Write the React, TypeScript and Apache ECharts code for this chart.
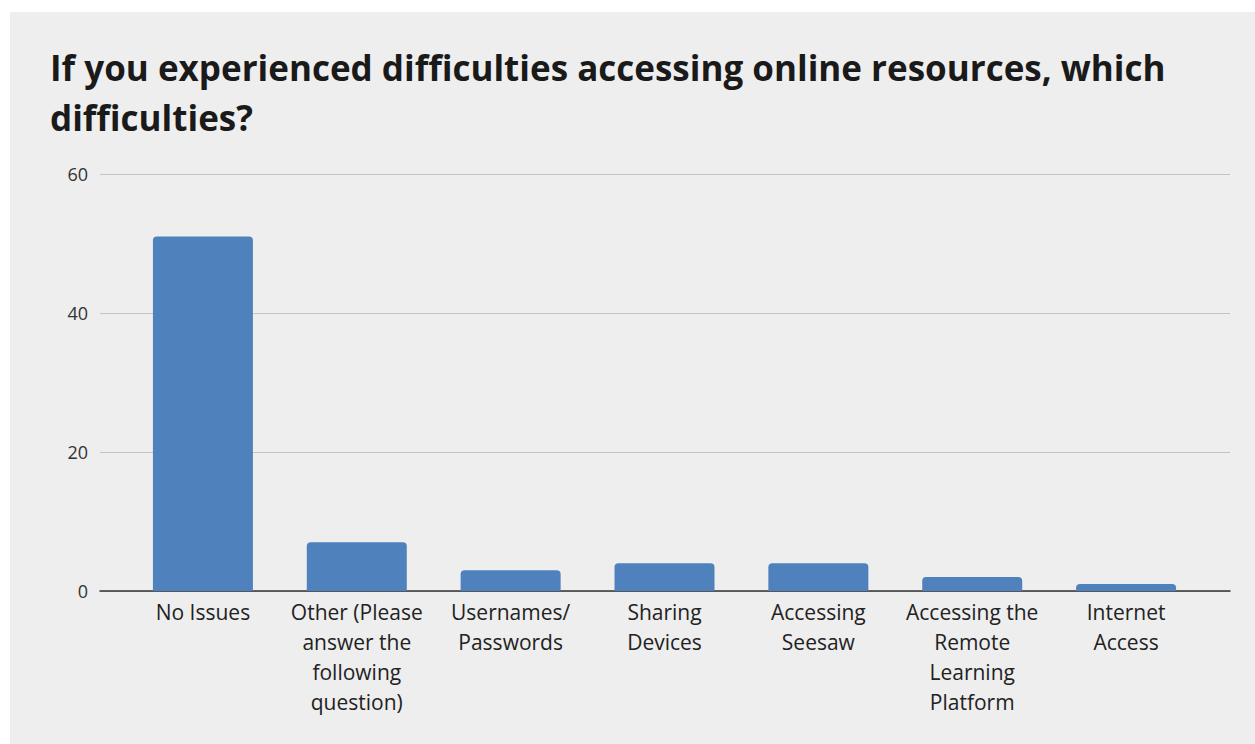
import React, { useEffect, useRef } from "react";
import * as echarts from "echarts";

const titleText = "If you experienced difficulties accessing online resources, which\ndifficulties?";
const categories = [
  "No Issues",
  "Other (Please\nanswer the\nfollowing\nquestion)",
  "Usernames/\nPasswords",
  "Sharing\nDevices",
  "Accessing\nSeesaw",
  "Accessing the\nRemote\nLearning\nPlatform",
  "Internet\nAccess",
];
const counts = [51, 7, 3, 4, 4, 2, 1];
const yMin = 0;
const yMax = 60;
const yInterval = 20;

export default function App() {
  const ref = useRef<HTMLDivElement>(null);
  useEffect(() => {
    if (!ref.current) return;
    const chart = echarts.init(ref.current, null, { renderer: "svg" });
    chart.setOption({
      animation: false,
      backgroundColor: "#eeeeee",
      title: {
        text: titleText,
        left: 40,
        top: 30,
        padding: 0,
        textStyle: {
          fontFamily: "Open Sans",
          fontWeight: "bold",
          fontSize: 35,
          lineHeight: 50,
          color: "#1a1a1a",
        },
      },
      grid: [
        { left: 90, right: 25, top: 162, bottom: 153 },
        { left: 116, right: 52, top: 162, bottom: 153 },
      ],
      xAxis: [
        {
          type: "category",
          gridIndex: 0,
          data: categories,
          axisLine: { show: true, lineStyle: { color: "#333333", width: 1.5 } },
          axisTick: { show: false },
          axisLabel: { show: false },
        },
        {
          type: "category",
          gridIndex: 1,
          data: categories,
          axisLine: { show: false },
          axisTick: { show: false },
          axisLabel: {
            interval: 0,
            margin: 6,
            fontFamily: "Open Sans",
            fontSize: 21,
            lineHeight: 30,
            color: "#222222",
            verticalAlign: "top",
          },
        },
      ],
      yAxis: [
        {
          type: "value",
          gridIndex: 0,
          min: yMin,
          max: yMax,
          interval: yInterval,
          axisLine: { show: false },
          axisTick: { show: false },
          axisLabel: {
            margin: 12,
            fontFamily: "Open Sans",
            fontSize: 18,
            color: "#333333",
          },
          splitLine: { lineStyle: { color: "#c4c4c4", width: 1.2 } },
        },
        {
          type: "value",
          gridIndex: 1,
          min: yMin,
          max: yMax,
          interval: yInterval,
          show: false,
          splitLine: { show: false },
        },
      ],
      series: [
        {
          type: "bar",
          xAxisIndex: 1,
          yAxisIndex: 1,
          data: counts,
          barWidth: 100,
          itemStyle: { color: "#4f81bd", borderRadius: [4, 4, 0, 0] },
        },
      ],
    });
    return () => chart.dispose();
  }, []);
  return (
    <div
      ref={ref}
      style={{ position: "absolute", left: 10, top: 12, width: 1245, height: 732 }}
    />
  );
}
